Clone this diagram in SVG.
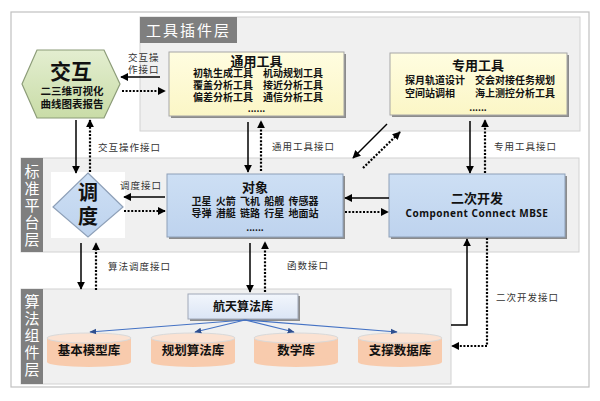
<svg xmlns="http://www.w3.org/2000/svg" width="600" height="401" viewBox="0 0 600 401">
<style>
.cn{font-family:"Noto Sans CJK SC","Microsoft YaHei",sans-serif;}
.b{font-weight:bold;fill:#111;}
.lbl{font-size:9.5px;fill:#333;letter-spacing:1px;}
.ttl{font-size:15px;fill:#fff;}
.panel{fill:#f0f0f0;stroke:#d2d2d2;stroke-width:1;}
.tbox{fill:#7f7f7f;}
.yel{fill:url(#gy);stroke:#a6a6a6;stroke-width:1;}
.blu{fill:url(#gb);stroke:#8ea0b8;stroke-width:1;}
.sh{fill:#8c8c8c;}
.sol{stroke:#000;stroke-width:1.5;fill:none;marker-end:url(#ah);}
.dot{stroke:#000;stroke-width:2.2;stroke-dasharray:2 1.6;fill:none;marker-end:url(#ah);}
.bl{stroke:#4472c4;stroke-width:1.2;fill:none;marker-end:url(#ab);}
.cylb{fill:#f8cbad;}
.cylt{fill:#fbe2d2;stroke:#d9d9d9;stroke-width:1;}
</style>
<defs>
<marker id="ah" viewBox="0 0 10 10" refX="9" refY="5" markerWidth="8" markerHeight="8" orient="auto" markerUnits="userSpaceOnUse"><path d="M0,0 L10,5 L0,10 z" fill="#000"/></marker>
<marker id="ab" viewBox="0 0 10 10" refX="9" refY="5" markerWidth="7" markerHeight="7" orient="auto" markerUnits="userSpaceOnUse"><path d="M0,1 L10,5 L0,9 z" fill="#2f4f8f"/></marker>
<linearGradient id="gy" x1="0" y1="0" x2="0" y2="1"><stop offset="0" stop-color="#fffde0"/><stop offset="1" stop-color="#fbf6c6"/></linearGradient>
<linearGradient id="gb" x1="0" y1="0" x2="0" y2="1"><stop offset="0" stop-color="#cddff4"/><stop offset="1" stop-color="#bed3ee"/></linearGradient>
<linearGradient id="gg" x1="0" y1="0" x2="0" y2="1"><stop offset="0" stop-color="#e3eed0"/><stop offset="1" stop-color="#c9dca7"/></linearGradient>
<linearGradient id="gl" x1="0" y1="0" x2="0" y2="1"><stop offset="0" stop-color="#f2f6fc"/><stop offset="1" stop-color="#dbe5f5"/></linearGradient>
</defs>

<rect x="11" y="12" width="578" height="375" fill="#fff" stroke="#c0c0c0" stroke-width="1.2"/>

<g id="layer-tools">
<rect class="panel" x="140" y="17" width="440" height="114"/>
<rect class="tbox" x="140" y="17" width="97" height="26"/>
<text class="cn ttl" x="188.5" y="35.5" text-anchor="middle" letter-spacing="2">工具插件层</text>
</g>
<g id="layer-platform">
<rect class="panel" x="21" y="158" width="558" height="94"/>
<rect class="tbox" x="21" y="158" width="22" height="94"/>
<g class="cn ttl" text-anchor="middle">
<text x="32" y="177">标</text><text x="32" y="194">准</text><text x="32" y="211">平</text><text x="32" y="228">台</text><text x="32" y="245">层</text>
</g>
<rect x="51" y="172" width="74" height="66" fill="#fff"/>
</g>
<g id="layer-algo">
<rect class="panel" x="21" y="289" width="430" height="95"/>
<rect class="tbox" x="21" y="289" width="22" height="95"/>
<g class="cn ttl" text-anchor="middle">
<text x="32" y="307">算</text><text x="32" y="324">法</text><text x="32" y="341">组</text><text x="32" y="358">件</text><text x="32" y="375">层</text>
</g>
</g>

<g id="interact">
<polygon points="22,84 37,50 104,50 120,84 104,118 37,118" fill="url(#gg)" stroke="#8c9c78" stroke-width="1.2"/>
<text class="cn b" x="71" y="79" font-size="21" text-anchor="middle">交互</text>
<text class="cn b" x="72" y="95" font-size="10.5" text-anchor="middle">二三维可视化</text>
<text class="cn b" x="72" y="108" font-size="10.5" text-anchor="middle">曲线图表报告</text>
</g>

<g id="general-tools">
<rect class="sh" x="171" y="54" width="175" height="64"/>
<rect class="yel" x="169" y="52" width="175" height="64"/>
<text class="cn b" x="256.5" y="66" font-size="13" text-anchor="middle">通用工具</text>
<g class="cn b" font-size="10">
<text x="193" y="77">初轨生成工具　机动规划工具</text>
<text x="193" y="89">覆盖分析工具　接近分析工具</text>
<text x="193" y="101">偏差分析工具　通信分析工具</text>
</g>
<text class="cn b" x="256.5" y="112" font-size="9" text-anchor="middle">......</text>
</g>

<g id="special-tools">
<rect class="sh" x="392" y="55" width="177" height="62"/>
<rect class="yel" x="390" y="53" width="177" height="62"/>
<text class="cn b" x="478" y="69.5" font-size="13" text-anchor="middle">专用工具</text>
<g class="cn b" font-size="10">
<text x="405" y="83.5">探月轨道设计　交会对接任务规划</text>
<text x="405" y="96.5">空间站调相　　海上测控分析工具</text>
</g>
<text class="cn b" x="478" y="111" font-size="9" text-anchor="middle">......</text>
</g>

<g id="schedule">
<polygon points="88,173 123,207 88,237 53,207" fill="url(#gb)" stroke="#8ea0b8" stroke-width="1.2"/>
<text class="cn b" x="88" y="200" font-size="20" text-anchor="middle">调</text>
<text class="cn b" x="88" y="224" font-size="20" text-anchor="middle">度</text>
</g>

<g id="object">
<rect class="sh" x="169" y="176" width="176" height="63"/>
<rect class="blu" x="167" y="174" width="176" height="63"/>
<text class="cn b" x="255" y="191.5" font-size="13" text-anchor="middle">对象</text>
<text class="cn b" x="255" y="205" font-size="10" text-anchor="middle" word-spacing="2">卫星 火箭 飞机 船舰 传感器</text>
<text class="cn b" x="255" y="217" font-size="10" text-anchor="middle" word-spacing="2">导弹 潜艇 链路 行星 地面站</text>
<text class="cn b" x="255" y="231" font-size="9" text-anchor="middle">......</text>
</g>

<g id="secondary-dev">
<rect class="sh" x="391" y="176" width="176" height="63"/>
<rect class="blu" x="389" y="174" width="176" height="63"/>
<text class="cn b" x="477" y="203" font-size="13" text-anchor="middle">二次开发</text>
<text x="477" y="217" font-size="10" font-weight="bold" fill="#111" font-family="'Noto Sans','Open Sans',sans-serif" text-anchor="middle" letter-spacing="0.5">Component Connect MBSE</text>
</g>

<g id="aero-lib">
<rect class="sh" x="190" y="296" width="110" height="25"/>
<rect x="188" y="294" width="110" height="25" fill="url(#gl)" stroke="#a0a8b8" stroke-width="1"/>
<text class="cn b" x="243" y="311" font-size="12" text-anchor="middle">航天算法库</text>
</g>

<g id="lib-basic">
<rect class="cylb" x="47" y="338" width="84" height="24"/><ellipse class="cylb" cx="89" cy="362" rx="42" ry="5"/><ellipse class="cylt" cx="89" cy="338" rx="42" ry="5"/>
<text class="cn b" x="89" y="355" font-size="12.5" text-anchor="middle">基本模型库</text>
</g>
<g id="lib-plan">
<rect class="cylb" x="151" y="338" width="84" height="24"/><ellipse class="cylb" cx="193" cy="362" rx="42" ry="5"/><ellipse class="cylt" cx="193" cy="338" rx="42" ry="5"/>
<text class="cn b" x="193" y="355" font-size="12.5" text-anchor="middle">规划算法库</text>
</g>
<g id="lib-math">
<rect class="cylb" x="254" y="338" width="84" height="24"/><ellipse class="cylb" cx="296" cy="362" rx="42" ry="5"/><ellipse class="cylt" cx="296" cy="338" rx="42" ry="5"/>
<text class="cn b" x="296" y="355" font-size="12.5" text-anchor="middle">数学库</text>
</g>
<g id="lib-data">
<rect class="cylb" x="358" y="338" width="84" height="24"/><ellipse class="cylb" cx="400" cy="362" rx="42" ry="5"/><ellipse class="cylt" cx="400" cy="338" rx="42" ry="5"/>
<text class="cn b" x="400" y="355" font-size="12.5" text-anchor="middle">支撑数据库</text>
</g>

<g id="connectors">
<line class="sol" x1="160" y1="77" x2="121" y2="77"/>
<line class="dot" x1="122" y1="91" x2="165" y2="91"/>
<line class="sol" x1="76" y1="120" x2="76" y2="173"/>
<line class="dot" x1="90" y1="172" x2="90" y2="120"/>
<line class="sol" x1="248" y1="122" x2="248" y2="172"/>
<line class="dot" x1="261" y1="171" x2="261" y2="121"/>
<line class="sol" x1="387" y1="124" x2="353" y2="158"/>
<line class="dot" x1="363" y1="168" x2="400" y2="132"/>
<line class="sol" x1="470" y1="121" x2="470" y2="173"/>
<line class="dot" x1="485" y1="173" x2="485" y2="120"/>
<line class="sol" x1="165" y1="197" x2="124" y2="197"/>
<line class="dot" x1="124" y1="211" x2="165" y2="211"/>
<line class="sol" x1="389" y1="198" x2="345" y2="198"/>
<line class="dot" x1="345" y1="212" x2="388" y2="212"/>
<line class="sol" x1="81" y1="243" x2="81" y2="289"/>
<line class="dot" x1="96" y1="290" x2="96" y2="243"/>
<line class="sol" x1="250" y1="243" x2="250" y2="292"/>
<line class="dot" x1="265" y1="292" x2="265" y2="242"/>
<polyline class="sol" points="451,325 467,325 467,239"/>
<polyline class="dot" points="487,238 487,346 452,346"/>
<line class="bl" x1="245" y1="320" x2="90" y2="332"/>
<line class="bl" x1="245" y1="320" x2="195" y2="332"/>
<line class="bl" x1="245" y1="320" x2="294" y2="332"/>
<line class="bl" x1="245" y1="320" x2="397" y2="332"/>
<g class="cn lbl">
<text x="128" y="61">交互操</text>
<text x="128" y="73">作接口</text>
<text x="98" y="151">交互操作接口</text>
<text x="120" y="189">调度接口</text>
<text x="108" y="270">算法调度接口</text>
<text x="272" y="150">通用工具接口</text>
<text x="494" y="150">专用工具接口</text>
<text x="287" y="269">函数接口</text>
<text x="496" y="301">二次开发接口</text>
</g>
</g>
</svg>
